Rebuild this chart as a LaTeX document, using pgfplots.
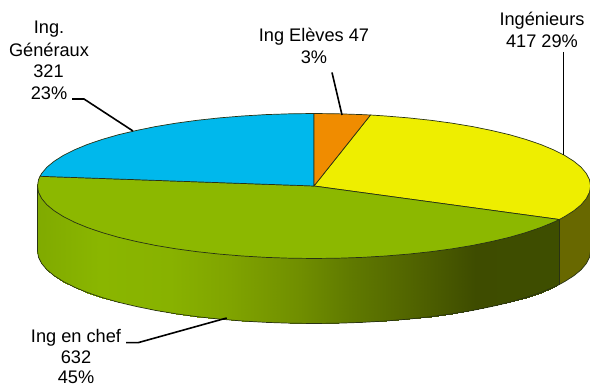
\documentclass[border=0pt]{standalone}
\usepackage{pgfplots}
\pgfplotsset{compat=1.18}
\usepackage{fontspec}
\setmainfont{Liberation Sans}
\definecolor{cblue}{RGB}{0,184,236}
\definecolor{corange}{RGB}{240,140,0}
\definecolor{cyellow}{RGB}{238,238,0}
\definecolor{cgreen}{RGB}{140,184,0}
\definecolor{cwall}{RGB}{104,104,0}
\definecolor{cedge}{RGB}{40,50,20}
\tikzset{lab/.style={font=\fontsize{18.2}{22}\selectfont, anchor=base, inner sep=0pt}}
\begin{document}
\begin{tikzpicture}
\path[use as bounding box] (0,0) rectangle (590pt,387pt);
\begin{axis}[
  scale only axis, width=590pt, height=387pt,
  xmin=0, xmax=590, ymin=0, ymax=387, y dir=reverse,
  hide axis, clip=false,
  colormap={wallmap}{
    rgb255(37pt)=(128,170,0);
    rgb255(100pt)=(138,182,0);
    rgb255(170pt)=(136,178,0);
    rgb255(230pt)=(128,164,0);
    rgb255(300pt)=(112,142,0);
    rgb255(350pt)=(96,122,0);
    rgb255(400pt)=(84,104,0);
    rgb255(450pt)=(70,86,0);
    rgb255(475pt)=(62,76,0);
    rgb255(560pt)=(62,78,0)
  },
  point meta min=37, point meta max=560,
  every axis plot/.append style={no marks},
  edge/.style={draw=cedge, line width=0.7pt, line join=round},
  leader/.style={draw=black, line width=1.6pt, line join=miter},
]
% green wall
\addplot[surf, shader=interp, mesh/rows=2, point meta=x] table {
x y
37.5 184.5
38.5 190.8
41.7 197.1
46.9 203.3
54.2 209.3
63.4 215.1
74.5 220.75
87.5 226.1
102.2 231.1
118.5 235.8
136.3 240
155.4 243.9
175.8 247.3
197.1 250.2
219.4 252.6
242.4 254.5
266.0 255.9
289.9 256.7
314 257
338.1 256.7
362.0 255.9
385.6 254.5
408.6 252.6
430.9 250.2
452.3 247.3
472.6 243.9
491.7 240
509.5 235.8
525.8 231.1
540.5 226.1
553.5 220.75
559.3 218
37.5 251
38.5 257.3
41.7 263.6
46.9 269.8
54.2 275.8
63.4 281.6
74.5 287.25
87.5 292.6
102.2 297.6
118.5 302.3
136.3 306.5
155.4 310.4
175.8 313.8
197.1 316.7
219.4 319.1
242.4 321.0
266.0 322.4
289.9 323.2
314 323.5
338.1 323.2
362.0 322.4
385.6 321.0
408.6 319.1
430.9 316.7
452.3 313.8
472.6 310.4
491.7 306.5
509.5 302.3
525.8 297.6
540.5 292.6
553.5 287.25
559.3 284.5
};
% brown wall
\addplot[fill=cwall, draw=none] coordinates {
(559.3,219.5) (564.6,216.6) (573.8,210.8) (581.1,204.8) (586.3,198.6) (589.5,192.3) (590.5,186)
(590.5,251) (589.5,257.3) (586.3,263.6) (581.1,269.8) (573.8,275.8) (564.6,281.6) (559.3,284.5)
} -- cycle;
% wall outline
\addplot[edge] coordinates {
(37.5,186) (37.5,251) (38.5,257.3) (41.7,263.6) (46.9,269.8) (54.2,275.8) (63.4,281.6) (74.5,287.25)
(87.5,292.6) (102.2,297.6) (118.5,302.3) (136.3,306.5) (155.4,310.4) (175.8,313.8) (197.1,316.7)
(219.4,319.1) (242.4,321.0) (266.0,322.4) (289.9,323.2) (314,323.5) (338.1,323.2) (362.0,322.4)
(385.6,321.0) (408.6,319.1) (430.9,316.7) (452.3,313.8) (472.6,310.4) (491.7,306.5) (509.5,302.3)
(525.8,297.6) (540.5,292.6) (553.5,287.25) (559.3,284.5) (564.6,281.6) (573.8,275.8) (581.1,269.8)
(586.3,263.6) (589.5,257.3) (590.5,251) (590.5,186)
};
\addplot[edge] coordinates {(559.3,219.5) (559.3,284.5)};
% yellow top
\addplot[fill=cyellow, edge] coordinates {
(314,186) (370.5,115.0) (385.6,116.0) (408.6,117.9) (430.9,120.3) (452.3,123.2) (472.6,126.6)
(491.7,130.5) (509.5,134.7) (525.8,139.4) (540.5,144.4) (553.5,149.8) (564.6,155.4) (573.8,161.2)
(581.1,167.2) (586.3,173.4) (589.5,179.7) (590.5,186) (589.5,192.3) (586.3,198.6) (581.1,204.8)
(573.8,210.8) (564.6,216.6) (559.3,219.5)
} -- cycle;
% green top
\addplot[fill=cgreen, edge] coordinates {
(314,186) (559.3,219.5) (553.5,222.25) (540.5,227.6) (525.8,232.6) (509.5,237.3) (491.7,241.5)
(472.6,245.4) (452.3,248.8) (430.9,251.7) (408.6,254.1) (385.6,256.0) (362.0,257.4) (338.1,258.2)
(314,258.5) (289.9,258.2) (266.0,257.4) (242.4,256.0) (219.4,254.1) (197.1,251.7) (175.8,248.8)
(155.4,245.4) (136.3,241.5) (118.5,237.3) (102.2,232.6) (87.5,227.6) (74.5,222.25) (63.4,216.6)
(54.2,210.8) (46.9,204.8) (41.7,198.6) (38.5,192.3) (37.5,186) (38.5,179.7) (40.0,176.3)
} -- cycle;
% blue top
\addplot[fill=cblue, edge] coordinates {
(314,186) (40.0,176.3) (41.7,173.4) (46.9,167.2) (54.2,161.2) (63.4,155.4) (74.5,149.8) (87.5,144.4)
(102.2,139.4) (118.5,134.7) (136.3,130.5) (155.4,126.6) (175.8,123.2) (197.1,120.3) (219.4,117.9)
(242.4,116.0) (266.0,114.6) (289.9,113.8) (314,113.5)
} -- cycle;
% orange top
\addplot[fill=corange, edge] coordinates {
(314,186) (314,113.5) (338.1,113.8) (362.0,114.6) (370.5,115.0)
} -- cycle;
% leaders
\addplot[leader] coordinates {(72,99) (84,99) (133,131)};
\addplot[leader] coordinates {(332,72.5) (342,115)};
\addplot[leader] coordinates {(563.3,52) (563.3,155)};
\addplot[leader] coordinates {(126,342.7) (138,342.7) (226.7,318)};
% labels
\node[lab] at (axis cs:49,34) {Ing.};
\node[lab] at (axis cs:49,56.5) {Généraux};
\node[lab] at (axis cs:48.5,78) {321};
\node[lab] at (axis cs:49,100) {23\%};
\node[lab] at (axis cs:314,42) {Ing Elèves 47};
\node[lab] at (axis cs:314,64) {3\%};
\node[lab] at (axis cs:542,26) {Ingénieurs};
\node[lab] at (axis cs:542,48) {417 29\%};
\node[lab] at (axis cs:76,343) {Ing en chef};
\node[lab] at (axis cs:76,364) {632};
\node[lab] at (axis cs:76,384) {45\%};
\end{axis}
\end{tikzpicture}
\end{document}
